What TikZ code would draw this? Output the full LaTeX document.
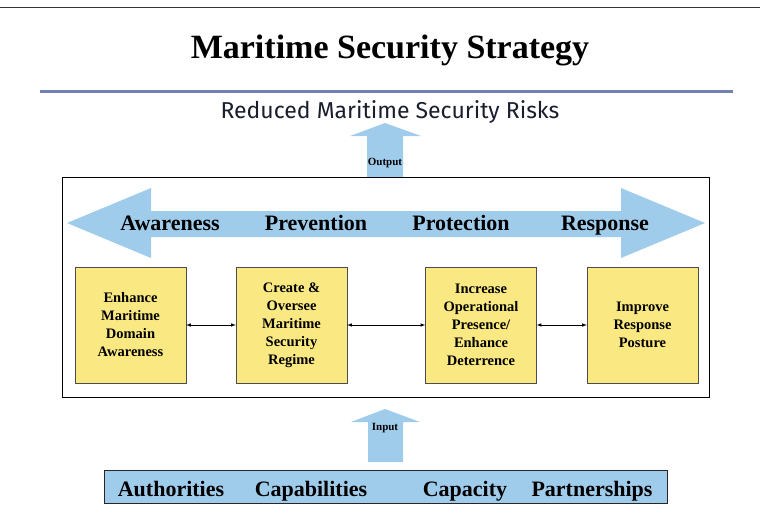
\documentclass[tikz,border=0pt]{standalone}
\usepackage{fontspec}
\setmainfont{Liberation Serif}
\newfontfamily\risksans{Fira Sans}
\usepackage{tikz}
\usetikzlibrary{arrows,positioning}

\definecolor{arrowblue}{RGB}{160,204,236}
\definecolor{goalyellow}{RGB}{250,233,130}
\definecolor{ruleblue}{RGB}{115,128,178}
\definecolor{risktext}{RGB}{25,30,45}

\begin{document}
\begin{tikzpicture}[
    x=1pt, y=-1pt,
    title/.style={font=\bfseries\fontsize{34}{40}\selectfont},
    theme/.style={anchor=base, font=\bfseries\fontsize{22}{26}\selectfont},
    goal/.style={rectangle, draw=black!70, fill=goalyellow, minimum width=111pt, minimum height=116pt, align=center, inner sep=2pt, font=\bfseries\fontsize{14.5}{18}\selectfont},
    tag/.style={font=\bfseries\fontsize{11}{13}\selectfont},
    link/.style={<->, >=latex, semithick}
]
\useasboundingbox (0,0) rectangle (760,527);

% heading
\draw[black!80, line width=0.8pt] (0,7) -- (760,7);
\node[title] (title) at (390,50) {Maritime Security Strategy};
\draw[ruleblue, line width=3pt] (40,91) -- (733,91);
\node[anchor=base, font=\risksans\fontsize{23}{26}\selectfont, text=risktext] (risks) at (390,118) {Reduced Maritime Security Risks};

% output arrow
\fill[arrowblue] (367,177) -- (367,136) -- (350,136) -- (385,123) -- (421,136) -- (403,136) -- (403,177) -- cycle;
\node[tag] (output) at (385,163) {Output};

% strategy frame
\draw[black, line width=0.6pt] (62,177) rectangle (709,397);
\fill[arrowblue] (67,223) -- (151,188) -- (151,211) -- (621,211) -- (621,188) -- (705,223)
    -- (621,258) -- (621,237) -- (151,237) -- (151,258) -- cycle;
\node[theme] (awareness) at (170,230) {Awareness};
\node[theme] (prevention) at (316,230) {Prevention};
\node[theme] (protection) at (461,230) {Protection};
\node[theme] (response) at (605,230) {Response};

\node[goal] (g1) at (130.5,325) {Enhance\\Maritime\\Domain\\Awareness};
\node[goal] (g2) at (291.5,325) {Create \&\\Oversee\\Maritime\\Security\\Regime};
\node[goal] (g3) at (481,325) {Increase\\Operational\\Presence/\\Enhance\\Deterrence};
\node[goal] (g4) at (642.5,325) {Improve\\Response\\Posture};

\draw[link] (g1) -- (g2);
\draw[link] (g2) -- (g3);
\draw[link] (g3) -- (g4);

% input arrow
\fill[arrowblue] (368,462) -- (368,422) -- (351,422) -- (385,409) -- (420,422) -- (403,422) -- (403,462) -- cycle;
\node[tag] (input) at (385,428) {Input};

% means
\node[rectangle, draw=black!85, line width=0.8pt, fill=arrowblue, minimum width=563pt, minimum height=33pt] (means) at (385.5,486.5) {};
\node[theme] (authorities) at (171,496) {Authorities};
\node[theme] (capabilities) at (311,496) {Capabilities};
\node[theme] (capacity) at (465,496) {Capacity};
\node[theme] (partnerships) at (592,496) {Partnerships};
\end{tikzpicture}
\end{document}
